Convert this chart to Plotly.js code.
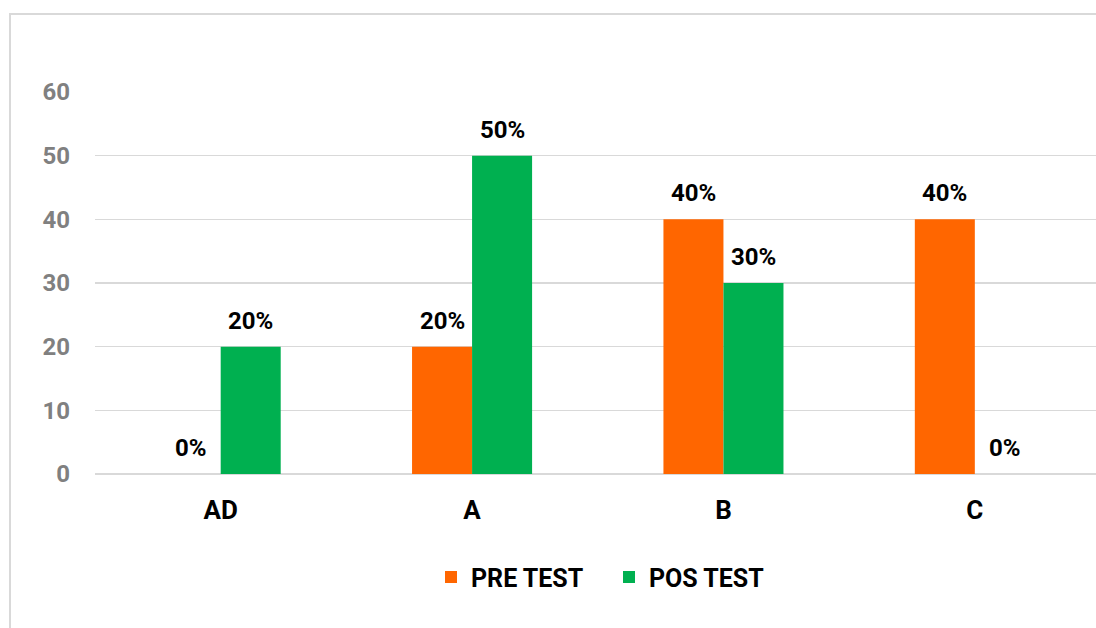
<!DOCTYPE html>
<html>
<head>
<meta charset="utf-8">
<script src="https://cdn.plot.ly/plotly-3.0.1.min.js"></script>
<style>
html,body{margin:0;padding:0;background:#fff;}
#chart{width:1096px;height:628px;}
</style>
</head>
<body>
<div id="chart"></div>
<script>
const categories = ["AD", "A", "B", "C"];
const preTest = [0, 20, 40, 40];
const posTest = [20, 50, 30, 0];
const preLabels = ["0%", "20%", "40%", "40%"];
const posLabels = ["20%", "50%", "30%", "0%"];
const yTicks = [0, 10, 20, 30, 40, 50, 60];

const FONT = "Roboto, 'Liberation Sans', sans-serif";
const W = 1096, H = 628;
const M = {l: 95, r: 0, t: 92, b: 154};
const pw = W - M.l - M.r, ph = H - M.t - M.b;
const px = v => (v - M.l) / pw;
const py = v => (H - M.b - v) / ph;

const traces = [
  {type: "bar", name: "PRE TEST", x: categories, y: preTest,
   marker: {color: "#FF6600"}, hoverinfo: "x+y"},
  {type: "bar", name: "POS TEST", x: categories, y: posTest,
   marker: {color: "#00B050"}, hoverinfo: "x+y"}
];

const annotations = [];
categories.forEach((c, i) => {
  annotations.push({x: c, y: preTest[i], text: preLabels[i], showarrow: false,
    xref: "x", yref: "y", xanchor: "center", yanchor: "bottom", xshift: -30, yshift: 10,
    font: {family: FONT, size: 24, color: "#000", weight: "bold"}});
  annotations.push({x: c, y: posTest[i], text: posLabels[i], showarrow: false,
    xref: "x", yref: "y", xanchor: "center", yanchor: "bottom", xshift: 30, yshift: 10,
    font: {family: FONT, size: 24, color: "#000", weight: "bold"}});
});

const layout = {
  width: W, height: H,
  margin: M,
  paper_bgcolor: "#fff", plot_bgcolor: "#fff",
  barmode: "group", bargap: 0.5225, bargroupgap: 0,
  showlegend: true,
  legend: {orientation: "h", x: px(431), xanchor: "left", y: -0.27, yanchor: "middle",
    entrywidth: 133, entrywidthmode: "pixels",
    font: {family: FONT, size: 25, color: "#000", weight: "bold"}, itemwidth: 30},
  xaxis: {type: "category", range: [-0.5, 3.482], showgrid: false, zeroline: false,
    showline: false, ticks: "", ticklabelstandoff: 18,
    tickfont: {family: FONT, size: 26, color: "#000", weight: "bold"}},
  yaxis: {range: [0, 60], tickvals: yTicks, ticktext: yTicks.map(String),
    showgrid: true, gridcolor: "#d9d9d9", gridwidth: 1.5, zeroline: true, zerolinecolor: "#d9d9d9", zerolinewidth: 1.5,
    showline: false, ticks: "", ticklabelstandoff: 24,
    tickfont: {family: FONT, size: 24, color: "#808080", weight: "bold"}},
  annotations: annotations,
  shapes: [{type: "rect", xref: "paper", yref: "paper",
    x0: px(10), x1: px(1120), y0: py(660), y1: py(14),
    line: {color: "#d9d9d9", width: 2}, fillcolor: "rgba(0,0,0,0)", layer: "below"}]
};

Plotly.newPlot("chart", traces, layout, {displayModeBar: false, staticPlot: true});
</script>
</body>
</html>
